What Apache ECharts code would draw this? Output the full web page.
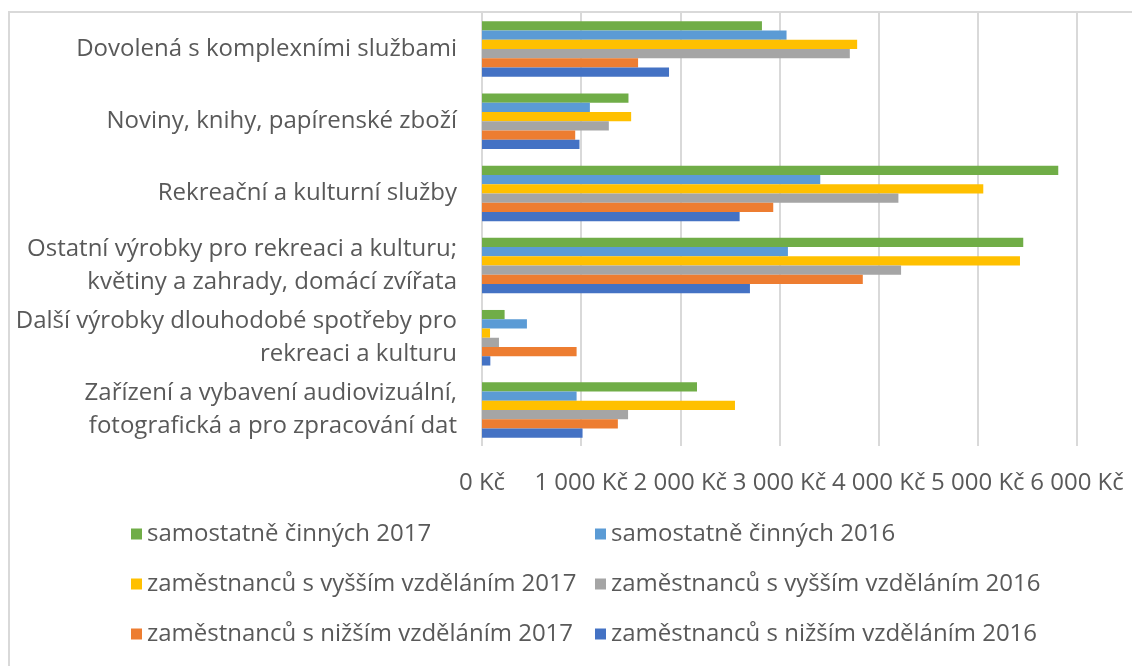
<!DOCTYPE html>
<html>
<head>
<meta charset="utf-8">
<style>
body { margin: 0; background: #fff; }
#chart { width: 1132px; height: 666px; }
</style>
<script src="https://cdn.jsdelivr.net/npm/echarts@6/dist/echarts.min.js"></script>
</head>
<body>
<div id="chart"></div>
<script>
// categories, top to bottom as in the picture
const categories = [
  "Dovolená s komplexními službami",
  "Noviny, knihy, papírenské zboží",
  "Rekreační a kulturní služby",
  "Ostatní výrobky pro rekreaci a kulturu;\nkvětiny a zahrady, domácí zvířata",
  "Další výrobky dlouhodobé spotřeby pro\nrekreaci a kulturu",
  "Zařízení a vybavení audiovizuální,\nfotografická a pro zpracování dat"
];

const seriesNames = [
  "samostatně činných 2017",
  "samostatně činných 2016",
  "zaměstnanců s vyšším vzděláním 2017",
  "zaměstnanců s vyšším vzděláním 2016",
  "zaměstnanců s nižším vzděláním 2017",
  "zaměstnanců s nižším vzděláním 2016"
];

// values in Kč, same order as categories
const samostatne2017 = [2823, 1477, 5811, 5458, 228, 2168];
const samostatne2016 = [3071, 1088, 3411, 3085, 453, 954];
const vyssi2017 = [3783, 1504, 5055, 5425, 81, 2551];
const vyssi2016 = [3709, 1279, 4199, 4226, 171, 1473];
const nizsi2017 = [1574, 940, 2937, 3840, 954, 1370];
const nizsi2016 = [1886, 983, 2598, 2702, 84, 1014];

const xTicks = [0, 1000, 2000, 3000, 4000, 5000, 6000];

const colors = ["#70AD47", "#5B9BD5", "#FFC000", "#A5A5A5", "#ED7D31", "#4472C4"];
const values = [samostatne2017, samostatne2016, vyssi2017, vyssi2016, nizsi2017, nizsi2016];

const FONT = "Open Sans";
const FS = 24;
const TXT = "#595959";

function fmtKc(v) {
  return String(v).replace(/\B(?=(\d{3})+(?!\d))/g, " ") + " Kč";
}

const legendBase = {
  orient: "vertical",
  top: 517,
  itemGap: 26,
  itemWidth: 11,
  itemHeight: 11,
  icon: "rect",
  textStyle: { fontFamily: FONT, fontSize: FS, color: TXT }
};

const option = {
  animation: false,
  color: colors,
  graphic: [{
    type: "rect",
    shape: { x: 9, y: 12, width: 1200, height: 700 },
    style: { fill: "none", stroke: "#d9d9d9", lineWidth: 2 },
    silent: true
  }],
  grid: { left: 482, right: 55, top: 13, bottom: 220, containLabel: false },
  legend: [
    Object.assign({ left: 126, data: [seriesNames[0], seriesNames[2], seriesNames[4]] }, legendBase),
    Object.assign({ left: 590, data: [seriesNames[1], seriesNames[3], seriesNames[5]] }, legendBase)
  ],
  xAxis: {
    type: "value",
    min: xTicks[0],
    max: xTicks[xTicks.length - 1],
    interval: 1000,
    axisLine: { show: false },
    axisTick: { show: false },
    splitLine: { lineStyle: { color: "#d9d9d9", width: 2 } },
    axisLabel: {
      margin: 25,
      fontFamily: FONT,
      fontSize: FS,
      color: TXT,
      formatter: fmtKc
    }
  },
  yAxis: {
    type: "category",
    inverse: true,
    data: categories,
    axisLine: { show: false },
    axisTick: { show: false },
    axisLabel: {
      margin: 25,
      fontFamily: FONT,
      fontSize: FS,
      lineHeight: 33,
      color: TXT,
      align: "right"
    }
  },
  series: seriesNames.map((name, i) => ({
    name: name,
    type: "bar",
    data: values[i],
    barGap: "0%",
    barCategoryGap: "23%",
    itemStyle: { color: colors[i] }
  }))
};

const chart = echarts.init(document.getElementById("chart"), null, { renderer: "canvas" });
chart.setOption(option);
</script>
</body>
</html>
